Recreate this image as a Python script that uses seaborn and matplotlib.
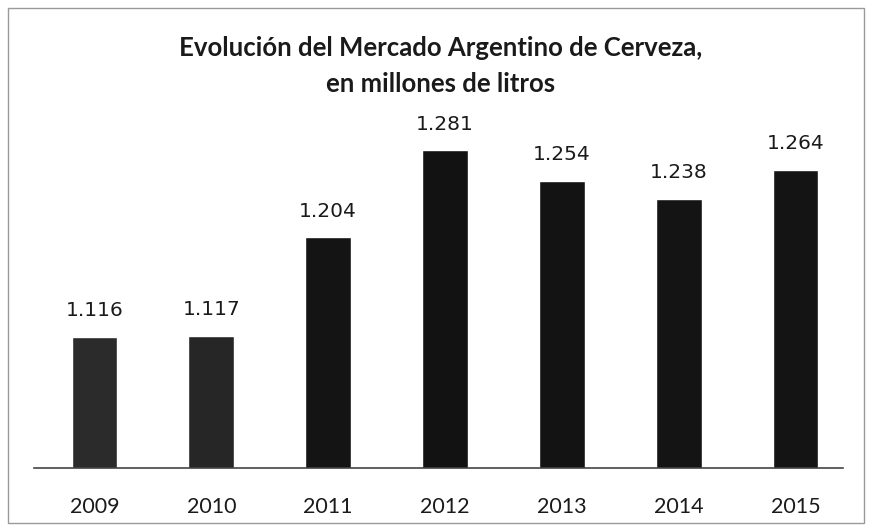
import matplotlib
matplotlib.use("Agg")
import matplotlib.pyplot as plt
import seaborn as sns
import pandas as pd
from matplotlib.patches import Rectangle

years = ["2009", "2010", "2011", "2012", "2013", "2014", "2015"]
volumes = [1116, 1117, 1204, 1281, 1254, 1238, 1264]
value_labels = ["1.116", "1.117", "1.204", "1.281", "1.254", "1.238", "1.264"]
bar_colors = ["#2b2b2b", "#262626", "#141414", "#121212", "#131313", "#141414", "#141414"]

sns.set_theme(style="white")
plt.rcParams["font.family"] = ["Lato", "DejaVu Sans"]

df = pd.DataFrame({"year": years, "volume": volumes})

fig = plt.figure(figsize=(8.7, 5.31), dpi=100)
ax = fig.add_axes([36 / 870, 63 / 531, 818 / 870, 339 / 531])
sns.barplot(data=df, x="year", y="volume", hue="year", palette=bar_colors,
            legend=False, width=0.39, ax=ax, saturation=1)
ax.set_ylim(1000, 1300)
ax.set_xlim(-0.5, 6.5)
for i, p in enumerate(ax.patches):
    ax.annotate(value_labels[i], (p.get_x() + p.get_width() / 2, p.get_height()),
                xytext=(0, 12), textcoords="offset points",
                ha="center", va="bottom", fontsize=14.5, color="#1a1a1a",
                family="DejaVu Sans")

for s in ["top", "left", "right"]:
    ax.spines[s].set_visible(False)
ax.spines["bottom"].set_color("#444444")
ax.spines["bottom"].set_linewidth(1.2)
ax.spines["bottom"].set_bounds(-0.52, 6.41)
ax.set_yticks([])
ax.set_xlabel("")
ax.set_ylabel("")
ax.tick_params(axis="x", length=0, pad=21, labelsize=15.5, colors="#1a1a1a")

fig.text(441 / 870, 1 - 48 / 531, "Evolución del Mercado Argentino de Cerveza,",
         ha="center", va="center", fontsize=18.5, fontweight="bold", color="#1a1a1a")
fig.text(441 / 870, 1 - 84 / 531, "en millones de litros",
         ha="center", va="center", fontsize=18.5, fontweight="bold", color="#1a1a1a")

fig.patches.append(Rectangle((8 / 870, 8 / 531), 856 / 870, 515 / 531,
                             transform=fig.transFigure, fill=False,
                             edgecolor="#9a9a9a", linewidth=1))

fig.savefig("out.png", dpi=100, facecolor="white")
